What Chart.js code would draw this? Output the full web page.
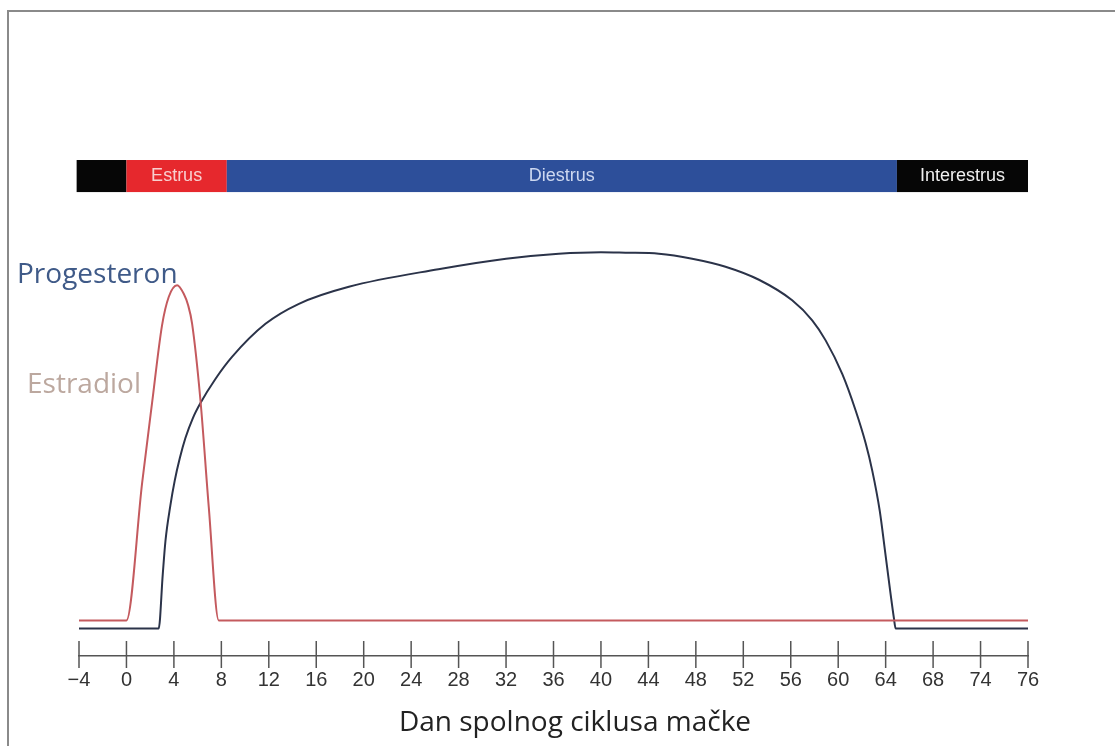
<!DOCTYPE html>
<html>
<head>
<meta charset="utf-8">
<script src="https://cdn.jsdelivr.net/npm/chart.js@4/dist/chart.umd.min.js"></script>
<style>
  body { margin: 0; background: #fff; }
  #wrap { position: relative; width: 1115px; height: 746px; }
  #frame { position: absolute; left: 7px; top: 10px; right: 0; bottom: 0; border-top: 2px solid #8a8a8a; border-left: 2px solid #8a8a8a; pointer-events: none; }
</style>
</head>
<body>
<div id="wrap">
  <div id="frame"></div>
  <canvas id="chart"></canvas>
</div>
<script>
// dan ciklusa -> razina (relativne jedinice, ocitano sa slike)
const estradiolDays = [-4, 0, 1.32, 2.16, 3.0, 3.57, 4.27, 4.83, 5.2, 5.53, 6.24, 6.94, 7.78, 76];
const estradiolLevels = [7.1, 7.1, 34.5, 50.5, 66, 71.7, 74, 72.3, 70, 66.4, 51, 29.7, 7.1, 7.1];

const progesteronDays = [-4, 2.72, 3.06, 3.29, 3.7, 4.07, 4.5, 4.97, 5.6, 6.24, 7.5, 8.9, 11.72, 14.54, 18.75, 26.3, 32, 36.45, 40, 42.07, 44.88, 47.69, 50.5, 53.32, 56.12, 57.81, 58.94, 60.34, 61.47, 62.31, 62.87, 63.5, 64.0, 64.7, 64.84, 76];
const progesteronLevels = [5.5, 5.5, 16.3, 23, 30, 35, 39.5, 43.5, 47.5, 50.5, 55.3, 59.7, 66.3, 70.3, 73.7, 77.2, 79.3, 80.3, 80.6, 80.5, 80.3, 79.3, 77.7, 75.1, 71, 67, 63, 56.3, 49, 42.5, 37, 29, 20, 7.5, 5.5, 5.5];

// faze ciklusa
const phaseNames = ['', 'Estrus', 'Diestrus', 'Interestrus'];
const phaseStart = [-4.2, 0, 8.46, 64.95];
const phaseEnd = [0, 8.46, 64.95, 76];

const xTickLabels = ['\u22124', '0', '4', '8', '12', '16', '20', '24', '28', '32', '36', '40', '44', '48', '52', '56', '60', '64', '68', '74', '76'];

const phaseColors = ['#060606', '#e6282d', '#2d4f9a', '#060606'];
const phaseTextColors = ['#fff', '#f8cfcf', '#cdd8f0', '#f0f0f0'];
const barTop = 99, barBottom = 92.6;

const toPoints = (xs, ys) => xs.map((x, i) => ({ x: x, y: ys[i] }));

const phaseBar = {
    id: 'phaseBar',
    beforeDatasetsDraw(chart) {
        const ctx = chart.ctx;
        const x = chart.scales.x, y = chart.scales.y;
        const top = y.getPixelForValue(barTop);
        const bottom = y.getPixelForValue(barBottom);
        ctx.save();
        phaseStart.forEach((s, i) => {
            const left = x.getPixelForValue(s);
            const right = x.getPixelForValue(phaseEnd[i]);
            ctx.fillStyle = phaseColors[i];
            ctx.fillRect(left, top, right - left, bottom - top);
        });
        ctx.font = '18px "Liberation Sans", Arial, sans-serif';
        ctx.textAlign = 'center';
        ctx.textBaseline = 'middle';
        phaseStart.forEach((s, i) => {
            if (!phaseNames[i]) return;
            const mid = (x.getPixelForValue(s) + x.getPixelForValue(phaseEnd[i])) / 2;
            ctx.fillStyle = phaseTextColors[i];
            ctx.fillText(phaseNames[i], mid, (top + bottom) / 2);
        });
        ctx.restore();
    }
};

const tickMarks = {
    id: 'tickMarks',
    afterDraw(chart) {
        const ctx = chart.ctx;
        const x = chart.scales.x;
        const yAxis = chart.chartArea.bottom;
        ctx.save();
        ctx.strokeStyle = '#555';
        ctx.lineWidth = 1.5;
        x.ticks.forEach(t => {
            const px = x.getPixelForValue(t.value);
            ctx.beginPath();
            ctx.moveTo(px, yAxis - 15);
            ctx.lineTo(px, yAxis + 12);
            ctx.stroke();
        });
        // oznake krivulja i naslov osi
        ctx.font = '28px "Open Sans", sans-serif';
        ctx.textAlign = 'left';
        ctx.textBaseline = 'alphabetic';
        ctx.fillStyle = '#3f5a88';
        ctx.fillText('Progesteron', 17, 283);
        ctx.fillStyle = '#bca89f';
        ctx.fillText('Estradiol', 27, 393);
        ctx.fillStyle = '#222';
        ctx.textAlign = 'center';
        ctx.fillText('Dan spolnog ciklusa mačke', 575, 731);
        ctx.restore();
    }
};

new Chart(document.getElementById('chart'), {
    type: 'line',
    data: {
        datasets: [
            {
                label: 'Estradiol',
                data: toPoints(estradiolDays, estradiolLevels),
                borderColor: '#c45a5e',
                borderWidth: 2,
                pointRadius: 0,
                cubicInterpolationMode: 'monotone',
                fill: false
            },
            {
                label: 'Progesteron',
                data: toPoints(progesteronDays, progesteronLevels),
                borderColor: '#2b3349',
                borderWidth: 2,
                pointRadius: 0,
                cubicInterpolationMode: 'monotone',
                fill: false
            }
        ]
    },
    options: {
        responsive: true,
        maintainAspectRatio: false,
        animation: false,
        layout: { padding: { left: 79, right: 87, top: 155, bottom: 50 } },
        plugins: {
            legend: { display: false },
            tooltip: { enabled: false }
        },
        scales: {
            x: {
                type: 'linear',
                min: -4,
                max: 76,
                grid: { display: false },
                border: { display: true, color: '#555', width: 1.5 },
                ticks: {
                    stepSize: 4,
                    padding: 4,
                    color: '#333',
                    font: { family: '"Liberation Sans", Arial, sans-serif', size: 20 },
                    maxRotation: 0,
                    autoSkip: false,
                    callback: (v, i) => xTickLabels[i]
                }
            },
            y: {
                display: false,
                min: 0,
                max: 100
            }
        }
    },
    plugins: [phaseBar, tickMarks]
});
</script>
</body>
</html>
